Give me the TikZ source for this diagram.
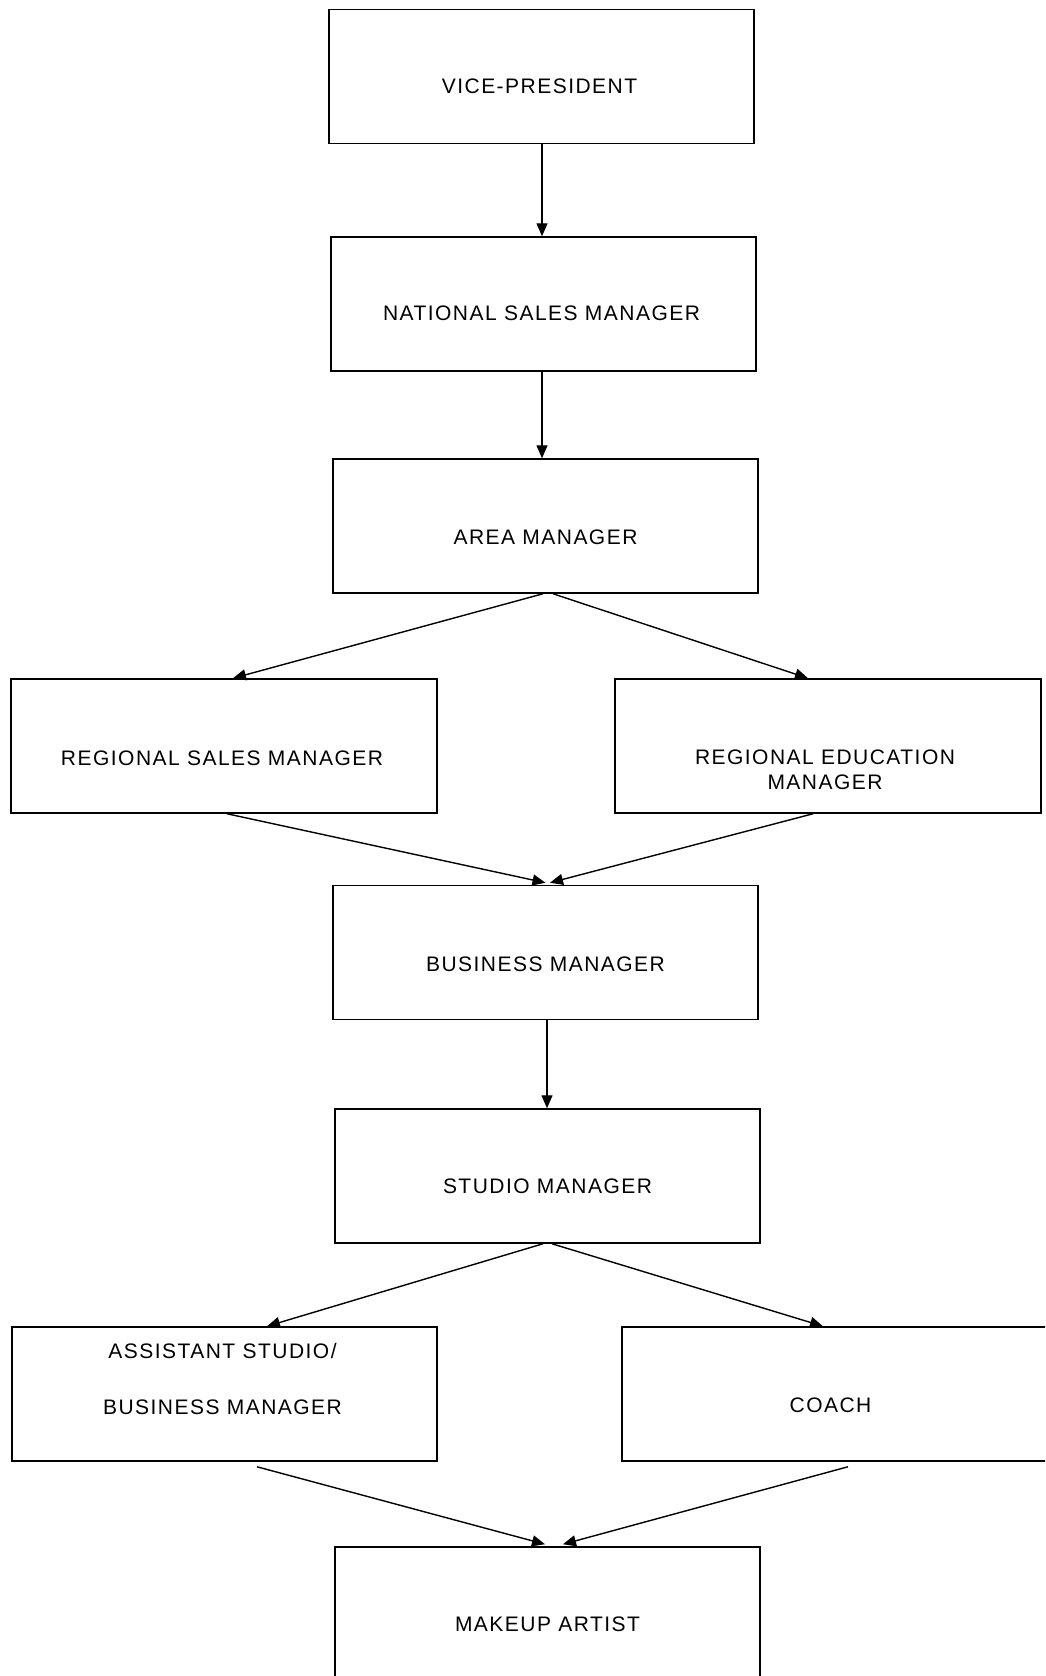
\documentclass[tikz,border=0pt]{standalone}
\usepackage{fontspec}
\newfontfamily\boxfont{Liberation Sans}[LetterSpace=7]
\usetikzlibrary{arrows.meta,calc}
\tikzset{
  orgbox/.style={draw=black, line width=1.5pt, rectangle, minimum width=425pt, minimum height=134pt, inner sep=0pt},
  lbl/.style={font=\boxfont\fontsize{21}{25}\selectfont, align=center, inner sep=0pt},
  conn/.style={line width=1.4pt, -{Triangle[length=13pt,width=11pt]}}
}
\begin{document}
\begin{tikzpicture}[x=1pt,y=-1pt]
\clip (0,0) rectangle (1045,1676);
\fill[white] (0,0) rectangle (1045,1676);
% boxes
\node[orgbox] (vp) at (541.5,76.5) {};
\node[orgbox] (nsm) at (543.5,304) {};
\node[orgbox] (am) at (545.5,526) {};
\node[orgbox, minimum width=426pt] (rsm) at (224,746) {};
\node[orgbox, minimum width=426pt] (rem) at (828,746) {};
\node[orgbox] (bm) at (545.5,952.5) {};
\node[orgbox] (sm) at (547.5,1176) {};
\node[orgbox] (asb) at (224.5,1394) {};
\node[orgbox] (coach) at (834.5,1394) {};
\node[orgbox] (ma) at (547.5,1614) {};
% texts
\node[lbl] (tvp) at ($(vp.center)+(-2,10)$) {VICE-PRESIDENT};
\node[lbl] (tnsm) at ($(nsm.center)+(-2,9)$) {NATIONAL SALES MANAGER};
\node[lbl] (tam) at ($(am.center)+(0,11)$) {AREA MANAGER};
\node[lbl] (trsm) at ($(rsm.center)+(-2,12)$) {REGIONAL SALES MANAGER};
\node[lbl] (trem) at ($(rem.center)+(-3,23.5)$) {REGIONAL EDUCATION\\MANAGER};
\node[lbl] (tbm) at ($(bm.center)+(0,12)$) {BUSINESS MANAGER};
\node[lbl] (tsm) at ($(sm.center)+(0,10)$) {STUDIO MANAGER};
\node[lbl] (tasb) at ($(asb.center)+(-2,-15)$) {ASSISTANT STUDIO/\\[31pt]BUSINESS MANAGER};
\node[lbl] (tcoach) at ($(coach.center)+(-4,11)$) {COACH};
\node[lbl] (tma) at ($(ma.center)+(0,10)$) {MAKEUP ARTIST};
% connectors
\draw[conn] ($(vp.south)+(0.5,0)$) -- ($(vp.south |- nsm.north)+(0.5,0)$);
\draw[conn] ($(nsm.south)+(-1.5,0)$) -- ($(nsm.south |- am.north)+(-1.5,0)$);
\draw[conn] ($(am.south)+(-2.5,0)$) -- ($(rsm.north)+(9,0)$);
\draw[conn] ($(am.south)+(7.5,0)$) -- ($(rem.north)+(-20,0)$);
\draw[conn] ($(rsm.south)+(3,0)$) -- ($(bm.north)+(0,-2)$);
\draw[conn] ($(rem.south)+(-15,0)$) -- ($(bm.north)+(4.5,-2)$);
\draw[conn] ($(bm.south)+(1.5,0)$) -- ($(bm.south |- sm.north)+(1.5,0)$);
\draw[conn] ($(sm.south)+(-4.5,0)$) -- ($(asb.north)+(42.5,0)$);
\draw[conn] ($(sm.south)+(4.5,0)$) -- ($(coach.north)+(-11.5,0)$);
\draw[conn] ($(asb.south)+(32.5,5)$) -- ($(ma.north)+(-2.5,-2)$);
\draw[conn] ($(coach.south)+(13.5,5)$) -- ($(ma.north)+(15.5,-2)$);
\end{tikzpicture}
\end{document}
